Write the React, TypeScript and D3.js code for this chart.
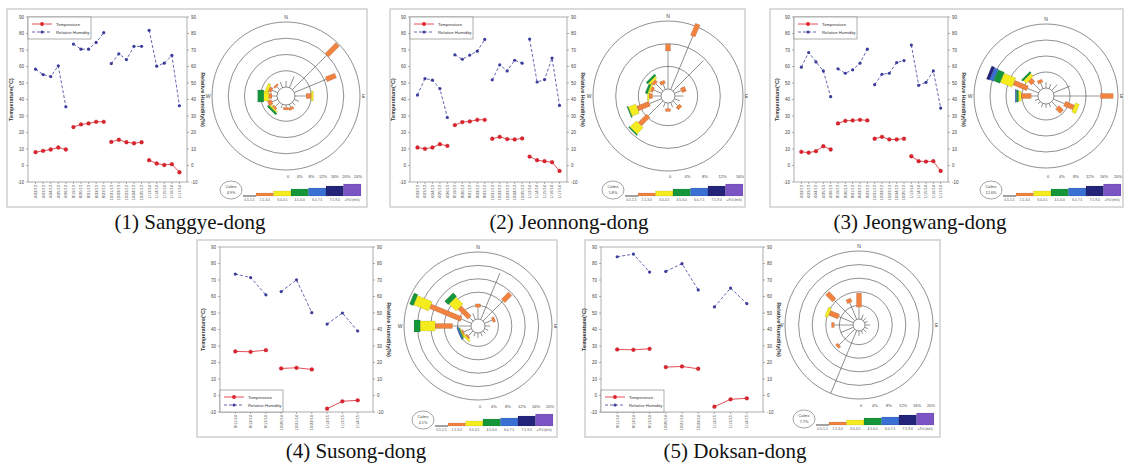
import React from "react";
import * as d3 from "d3";

// ---- data ----
const Y_TICKS = [-10, 0, 10, 20, 30, 40, 50, 60, 70, 80, 90];
const SPEED_CLASSES = ["0.5-1.5", "1.5-3.0", "3.0-4.5", "4.5-6.0", "6.0-7.5", "7.5-9.0", "≥9.0 (m/s)"];
const CLASS_COLORS = ["#555555", "#f2823f", "#f4ec1e", "#16963a", "#3a6fd4", "#23237a", "#7b55c4"];
const DIRECTIONS = d3.range(16).map((i) => i * 22.5); // N, NNE, ... NNW

const dates1 = ["4/22/13", "4/23/13", "4/24/13", "4/25/13", "4/26/13", "8/19/13", "8/20/13", "8/21/13", "8/22/13", "8/23/13",
  "10/21/13", "10/22/13", "10/23/13", "10/24/13", "10/25/13", "1/13/14", "1/14/14", "1/15/14", "1/16/14", "1/17/14"];
const dates2 = ["8/11/14", "8/12/14", "8/13/14", "10/20/14", "10/21/14", "10/22/14", "1/12/15", "1/13/15", "1/14/15"];

const temp1 = [8.1, 8.9, 9.7, 10.9, 9.7, 23.3, 24.9, 25.5, 26.5, 26.5, 14.3, 15.6, 14.1, 13.5, 14.1, 3.2, 1.2, 0.3, 0.8, -4.1];
const rh1 = [58.4, 55.1, 53.9, 60.4, 35.6, 73.6, 70.5, 70.5, 74.6, 80.5, 61.8, 67.7, 64.2, 72.2, 72.2, 81.9, 60.2, 62.0, 66.7, 36.2];
const temp2 = [10.9, 10.1, 10.9, 12.9, 11.9, 24.5, 26.3, 26.7, 27.7, 27.7, 16.2, 17.4, 16.0, 15.8, 16.4, 5.4, 3.2, 2.6, 2.0, -3.3];
const rh2 = [42.7, 52.7, 51.7, 46.6, 29.1, 67.1, 64.4, 66.9, 69.3, 76.4, 51.9, 61.0, 57.3, 63.8, 62.0, 76.6, 50.6, 52.1, 65.1, 36.4];
const temp3 = [8.3, 7.8, 8.7, 11.7, 9.7, 25.5, 27.1, 27.3, 27.7, 27.3, 16.2, 17.4, 15.8, 15.8, 16.2, 5.6, 2.6, 2.4, 2.6, -3.3];
const rh3 = [59.6, 68.5, 62.8, 57.3, 41.7, 58.6, 55.9, 58.0, 62.0, 70.5, 49.0, 55.3, 55.9, 62.4, 63.6, 73.0, 48.6, 50.4, 57.3, 34.8];
const temp4 = [26.7, 26.5, 27.5, 16.4, 16.8, 15.8, -8.0, -3.5, -2.9];
const rh4 = [73.6, 71.5, 61.0, 63.0, 70.1, 50.2, 43.3, 50.0, 39.1];
const temp5 = [27.9, 27.7, 28.3, 17.2, 17.6, 16.2, -6.8, -2.3, -1.7];
const rh5 = [84.1, 85.7, 74.8, 75.2, 79.9, 64.0, 53.7, 65.1, 55.7];

// wind rose: frequency (%) added by each speed class, 16 directions from N clockwise
const rose1 = [[1.5], [3.0], [12, 3.75], [8.5, 2.5], [2.75, 1.25, 0.5], [1.2], [1.0], [0.8, 0.6],
  [0.6, 0.6], [1.0], [1.5, 0.5, 0.4, 0.5], [1.5, 1.0], [1.25, 0.75, 1.25, 1.5], [1.5, 0.8, 0.7], [1.0, 0.5], [1.5]];
const rose2 = [[6.7, 1.2], [10.2, 2.3], [7.6], [1.3, 0.8], [1.5], [1.0], [1.2, 0.6], [0.9],
  [1.0, 0.5], [0.9], [3.7, 2.1, 1.6, 0.2], [2.3, 2.3, 1.4, 0.2], [1.5, 0.6, 0.3], [1.5, 0.5, 0.3, 0.4], [1.8, 0.6, 0.4, 0.4], [1.0, 0.6]];
const rose3 = [[1.5], [1.2], [2.0], [4.5], [11.6, 3.2], [3.0, 2.5, 1.0], [2.0, 1.6], [1.0],
  [1.0], [1.0], [0.8], [1.0], [1.7, 2.5, 0.7, 0.5, 0.3], [3.0, 3.7, 3.2, 1.7, 1.0, 0.8], [2.5, 1.2, 1.0, 0.5], [1.5, 0.8]];
const rose4 = [[3.5, 1.0], [15.0], [8.5, 3.0], [2.5, 0.8], [1.5], [1.2], [1.0], [1.2],
  [1.5], [1.2], [2.0, 0.6, 0.6], [2.5, 0.5, 0.3, 0.3, 0.4], [5.5, 5.2, 4.5, 1.8], [3.3, 10, 4.8, 1.2], [1.5, 4.2, 3.0, 1.5], [2.0]];
const rose5 = [[3.5, 4.1], [1.5], [1.2], [1.0], [1.5], [1.0], [1.2], [1.0],
  [1.5], [20], [6.5, 0.8], [4.0], [5.5, 0.8], [4.7, 2.9, 0.9], [8.5, 2.9], [5.3, 1.2]];

const calms = ["4.9%", "5.8%", "12.6%", "4.1%", "7.7%"];
const scaleLabels1 = ["0", "4%", "8%", "12%", "16%", "20%", "24%"];
const scaleLabels2 = ["0", "4%", "8%", "12%", "16%"];
const scaleLabels3 = ["0", "4%", "8%", "12%", "16%", "20%"];

// ---- layout (positions only) ----
const LAYOUT = [
  { bx: 7, by: 9, bw: 360, bh: 198, px0: 28, px1: 187, py0: 17, py1: 182, leg: "top", cx: 286, cy: 96, R: 74, r0: 9, rings: 4, capX: 190, capY: 229 },
  { bx: 390, by: 9, bw: 355, bh: 198, px0: 410, px1: 567, py0: 17, py1: 182, leg: "top", cx: 668, cy: 96, R: 75, r0: 7, rings: 3, capX: 569, capY: 229 },
  { bx: 770, by: 9, bw: 353, bh: 198, px0: 794, px1: 948, py0: 17, py1: 182, leg: "top", cx: 1046, cy: 96, R: 72, r0: 8, rings: 4, capX: 920, capY: 229 },
  { bx: 197, by: 240, bw: 360, bh: 197, px0: 220, px1: 373, py0: 247, py1: 412, leg: "bottom", cx: 478, cy: 326, R: 74, r0: 7, rings: 5, capX: 356, capY: 458 },
  { bx: 585, by: 240, bw: 355, bh: 197, px0: 601, px1: 763, py0: 247, py1: 412, leg: "bottom", cx: 859, cy: 325, R: 74, r0: 6, rings: 5, capX: 735, capY: 458 },
];

const STATIONS = [
  { name: "(1) Sanggye-dong", temp: temp1, rh: rh1, dates: dates1, group: 5, rose: rose1, calm: calms[0], scale: scaleLabels1 },
  { name: "(2) Jeonnong-dong", temp: temp2, rh: rh2, dates: dates1, group: 5, rose: rose2, calm: calms[1], scale: scaleLabels2 },
  { name: "(3) Jeongwang-dong", temp: temp3, rh: rh3, dates: dates1, group: 5, rose: rose3, calm: calms[2], scale: scaleLabels3 },
  { name: "(4) Susong-dong", temp: temp4, rh: rh4, dates: dates2, group: 3, rose: rose4, calm: calms[3], scale: scaleLabels3 },
  { name: "(5) Doksan-dong", temp: temp5, rh: rh5, dates: dates2, group: 3, rose: rose5, calm: calms[4], scale: scaleLabels3 },
];

const SANS = "Liberation Sans, Arial, sans-serif";
const RED = "#e0222c";
const BLUE = "#3c3c9c";
const CLASS_WIDTH = [0, 5, 10, 12, 13, 14, 15];
const LEGEND_H = [1, 3, 5, 7, 8, 10, 12];

function LineChart({ p, s }: any) {
  const n = s.temp.length;
  const x = d3.scalePoint<number>().domain(d3.range(n)).range([p.px0, p.px1]).padding(1);
  const y = d3.scaleLinear().domain([-10, 90]).range([p.py1, p.py0]);
  const groups = d3.groups(d3.range(n), (i) => Math.floor(i / s.group)).map((g) => g[1]);
  const line = d3.line<number>().x((i) => x(i)!);
  const midY = (p.py0 + p.py1) / 2;
  const lx = p.px0;
  const ly = p.leg === "top" ? p.py0 : p.py1 - 22;
  return (
    <g fontFamily={SANS}>
      <rect x={p.px0} y={p.py0} width={p.px1 - p.px0} height={p.py1 - p.py0} fill="none" stroke="#9a9a9a" strokeWidth={0.8} />
      {Y_TICKS.map((t) => (
        <g key={t}>
          <line x1={p.px0 - 2} x2={p.px0} y1={y(t)} y2={y(t)} stroke="#666" strokeWidth={0.5} />
          <text x={p.px0 - 4} y={y(t) + 1.5} fontSize={4.5} textAnchor="end" fill="#444">{t}</text>
          <line x1={p.px1} x2={p.px1 + 2} y1={y(t)} y2={y(t)} stroke="#666" strokeWidth={0.5} />
          <text x={p.px1 + 4} y={y(t) + 1.5} fontSize={4.5} fill="#444">{t}</text>
        </g>
      ))}
      {s.dates.map((d: string, i: number) => (
        <g key={i}>
          <line x1={x(i)} x2={x(i)} y1={p.py1} y2={p.py1 + 2} stroke="#666" strokeWidth={0.5} />
          <text transform={`translate(${x(i)! + 1.4},${p.py1 + 3}) rotate(-90)`} fontSize={4} textAnchor="end" fill="#444">{d}</text>
        </g>
      ))}
      <text transform={`translate(${p.px0 - 15},${midY}) rotate(-90)`} fontSize={5.5} fontWeight="bold" textAnchor="middle" fill="#333">Temperature(°C)</text>
      <text transform={`translate(${p.px1 + 14},${midY}) rotate(90)`} fontSize={5.5} fontWeight="bold" textAnchor="middle" fill="#333">Relative Humidity(%)</text>
      {groups.map((g, k) => (
        <g key={k}>
          <path d={line.y((i) => y(s.rh[i]))(g)!} fill="none" stroke={BLUE} strokeWidth={0.8} strokeDasharray="3,2" />
          <path d={line.y((i) => y(s.temp[i]))(g)!} fill="none" stroke={RED} strokeWidth={0.8} />
        </g>
      ))}
      {s.rh.map((v: number, i: number) => <circle key={"h" + i} cx={x(i)} cy={y(v)} r={1.6} fill={BLUE} />)}
      {s.temp.map((v: number, i: number) => <circle key={"t" + i} cx={x(i)} cy={y(v)} r={1.9} fill={RED} stroke="#a01018" strokeWidth={0.3} />)}
      <rect x={lx} y={ly} width={63} height={22} fill="white" stroke="#777" strokeWidth={0.6} />
      <line x1={lx + 4} x2={lx + 24} y1={ly + 7} y2={ly + 7} stroke={RED} strokeWidth={0.8} />
      <circle cx={lx + 14} cy={ly + 7} r={1.9} fill={RED} />
      <text x={lx + 28} y={ly + 8.5} fontSize={4.3} fill="#333">Temperature</text>
      <line x1={lx + 4} x2={lx + 24} y1={ly + 15} y2={ly + 15} stroke={BLUE} strokeWidth={0.8} strokeDasharray="3,2" />
      <circle cx={lx + 14} cy={ly + 15} r={1.6} fill={BLUE} />
      <text x={lx + 28} y={ly + 16.5} fontSize={4.3} fill="#333">Relative Humidity</text>
    </g>
  );
}

function Rose({ p, s }: any) {
  const r = d3.scaleLinear().domain([0, p.rings * 4]).range([p.r0, p.R]);
  const rings = d3.range(1, p.rings + 1).map((k) => r(k * 4));
  const sx = d3.scalePoint<number>().domain(d3.range(s.scale.length)).range([p.cx + 2, p.cx + 72]);
  const legX = p.cx - 43;
  const legBase = p.cy + 100;
  const segW = [13, 17.5, 17.5, 17.5, 17.5, 17.5, 17.5];
  const segX = [0, ...d3.cumsum(segW)].map((v) => legX + v);
  return (
    <g fontFamily={SANS}>
      {rings.map((rr, k) => <circle key={k} cx={p.cx} cy={p.cy} r={rr} fill="none" stroke="#444" strokeWidth={0.6} />)}
      <circle cx={p.cx} cy={p.cy} r={p.r0} fill="white" stroke="#444" strokeWidth={0.6} />
      <text x={p.cx} y={p.cy - p.R - 3} fontSize={5} textAnchor="middle" fill="#444">N</text>
      <text x={p.cx - p.R - 4} y={p.cy + 2} fontSize={5} textAnchor="middle" fill="#444">W</text>
      <text x={p.cx + p.R + 3.5} y={p.cy + 2} fontSize={4.5} textAnchor="middle" fill="#444">E</text>
      {s.rose.map((incs: number[], i: number) => {
        const cum = [0, ...d3.cumsum(incs)];
        return (
          <g key={i} transform={`translate(${p.cx},${p.cy}) rotate(${DIRECTIONS[i]})`}>
            {incs.map((v, k) =>
              k === 0 ? (
                <line key={k} x1={0} x2={0} y1={-p.r0} y2={-r(cum[1])} stroke="#555" strokeWidth={0.6} />
              ) : (
                <rect key={k} x={-CLASS_WIDTH[k] / 2} y={-r(cum[k + 1])} width={CLASS_WIDTH[k]} height={r(cum[k + 1]) - r(cum[k])}
                  fill={CLASS_COLORS[k]} stroke="#00000055" strokeWidth={0.3} />
              )
            )}
          </g>
        );
      })}
      {s.scale.map((t: string, i: number) => (
        <text key={i} x={sx(i)} y={p.cy + 82} fontSize={4} textAnchor="middle" fill="#444">{t}</text>
      ))}
      <ellipse cx={p.cx - 55} cy={p.cy + 94} rx={11} ry={9} fill="white" stroke="#666" strokeWidth={0.6} />
      <text x={p.cx - 55} y={p.cy + 92} fontSize={3.8} textAnchor="middle" fill="#444">Calms</text>
      <text x={p.cx - 55} y={p.cy + 98} fontSize={3.8} textAnchor="middle" fill="#444">{s.calm}</text>
      {SPEED_CLASSES.map((lab, k) => (
        <g key={k}>
          {k === 0 ? (
            <line x1={segX[0]} x2={segX[1]} y1={legBase} y2={legBase} stroke="#444" strokeWidth={1} />
          ) : (
            <rect x={segX[k]} y={legBase - LEGEND_H[k]} width={segW[k]} height={LEGEND_H[k]} fill={CLASS_COLORS[k]} stroke="#00000044" strokeWidth={0.3} />
          )}
          <text x={(segX[k] + segX[k + 1]) / 2} y={legBase + 4.5} fontSize={3.3} textAnchor="middle" fill="#555">{lab}</text>
        </g>
      ))}
    </g>
  );
}

export default function App() {
  return (
    <svg width={1125} height={469} style={{ position: "absolute", left: 0, top: 0, background: "white" }}>
      <rect width={1125} height={469} fill="white" />
      {STATIONS.map((s, i) => {
        const p = LAYOUT[i];
        return (
          <g key={i}>
            <rect x={p.bx} y={p.by} width={p.bw} height={p.bh} fill="white" stroke="#cfcfcf" strokeWidth={1.5} />
            <LineChart p={p} s={s} />
            <Rose p={p} s={s} />
            <text x={p.capX} y={p.capY} fontSize={21} textAnchor="middle" fontFamily="Liberation Serif, Times New Roman, serif" fill="#111">{s.name}</text>
          </g>
        );
      })}
    </svg>
  );
}
